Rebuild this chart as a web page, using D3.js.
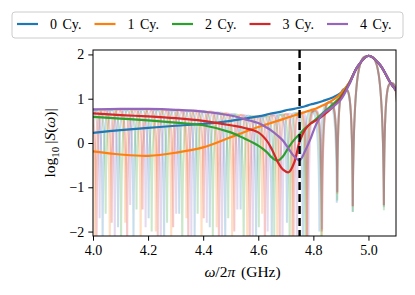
<!DOCTYPE html>
<html>
<head>
<meta charset="utf-8">
<script src="https://cdn.jsdelivr.net/npm/d3@7"></script>
<style>
  body { margin: 0; background: #fff; }
  svg text { font-family: "Liberation Serif", "Times New Roman", serif; fill: #000; }
</style>
</head>
<body>
<svg id="chart" width="415" height="295"></svg>
<script>
// legend labels, one per series
const seriesNames = ["0 Cy.", "1 Cy.", "2 Cy.", "3 Cy.", "4 Cy."];
const seriesColors = ["#1f77b4", "#ff7f0e", "#2ca02c", "#d62728", "#9467bd"];

// smoothed curves, all read on the same frequency grid (GHz)
const envFreq = [4.0, 4.1, 4.2, 4.3, 4.4, 4.5, 4.55, 4.6, 4.63, 4.65, 4.67, 4.69, 4.71, 4.73, 4.75, 4.77, 4.79, 4.81, 4.835, 4.87, 4.9, 4.93, 4.96, 5.0, 5.04, 5.08, 5.1];
const env0 = [0.23, 0.29, 0.34, 0.39, 0.43, 0.5, 0.55, 0.6, 0.64, 0.67, 0.69, 0.72, 0.75, 0.77, 0.8, 0.83, 0.87, 0.9, 0.95, 1.03, 1.13, 1.36, 1.72, 1.97, 1.78, 1.36, 1.19];
const env1 = [-0.19, -0.26, -0.29, -0.22, -0.1, 0.13, 0.25, 0.36, 0.42, 0.46, 0.5, 0.54, 0.58, 0.62, 0.66, 0.7, 0.74, 0.78, 0.85, 0.97, 1.12, 1.36, 1.72, 1.97, 1.78, 1.36, 1.19];
const env2 = [0.59, 0.55, 0.51, 0.46, 0.4, 0.24, 0.1, -0.06, -0.2, -0.33, -0.4, -0.3, -0.1, 0.07, 0.2, 0.33, 0.44, 0.54, 0.68, 0.87, 1.05, 1.34, 1.72, 1.97, 1.78, 1.36, 1.19];
const env3 = [0.67, 0.63, 0.6, 0.56, 0.5, 0.4, 0.34, 0.24, 0.06, -0.15, -0.42, -0.6, -0.66, -0.45, 0.03, 0.3, 0.44, 0.51, 0.62, 0.81, 1.02, 1.33, 1.72, 1.97, 1.78, 1.36, 1.19];
const env4 = [0.76, 0.77, 0.77, 0.75, 0.71, 0.62, 0.54, 0.45, 0.35, 0.27, 0.17, 0.05, -0.13, -0.3, -0.39, -0.18, 0.1, 0.42, 0.66, 0.81, 0.98, 1.32, 1.72, 1.97, 1.78, 1.36, 1.19];

// upper level reached by the raw (faint) fringes
const topFreq = [4.0, 4.2, 4.4, 4.5, 4.6, 4.7, 4.8, 4.86, 4.915, 4.95, 5.0, 5.05, 5.1];
const topVal = [0.75, 0.77, 0.73, 0.66, 0.6, 0.66, 0.72, 0.93, 1.22, 1.6, 1.97, 1.7, 1.19];

// fringe minima of the raw curves: position (GHz) and depth (log10)
const dips0 = [3.979, 4.035, 4.091, 4.147, 4.202, 4.258, 4.313, 4.369, 4.424, 4.48, 4.536, 4.592, 4.649, 4.704, 4.762, 4.822, 4.885, 4.943, 5.056, 5.112];
const depth0 = [-2.5, -2.4, -1.9, -2.3, -1.7, -2.5, -1.6, -2.2, -1.9, -2.4, -1.5, -2.2, -2.5, -1.8, -2.5, -2.0, -1.35, -1.55, -1.45, -1.6];
const dips1 = [3.95, 4.006, 4.061, 4.117, 4.173, 4.228, 4.284, 4.339, 4.394, 4.449, 4.505, 4.56, 4.614, 4.669, 4.723, 4.776, 4.831, 4.887, 4.943, 5.056, 5.112];
const depth1 = [-2.5, -2.2, -2.5, -1.8, -2.5, -2.0, -2.3, -1.7, -2.5, -1.9, -2.2, -2.5, -1.6, -2.4, -2.5, -2.5, -2.5, -1.15, -1.45, -1.42, -1.6];
const dips2 = [3.99, 4.046, 4.102, 4.158, 4.213, 4.269, 4.324, 4.38, 4.435, 4.491, 4.547, 4.602, 4.658, 4.714, 4.771, 4.829, 4.887, 4.943, 5.056, 5.112];
const depth2 = [-2.5, -1.6, -2.3, -1.5, -2.0, -1.8, -2.5, -1.6, -2.1, -1.7, -2.5, -1.9, -2.2, -2.5, -2.5, -2.2, -1.3, -1.56, -1.52, -1.6];
const dips3 = [3.957, 4.013, 4.068, 4.124, 4.18, 4.235, 4.291, 4.346, 4.402, 4.457, 4.513, 4.569, 4.624, 4.678, 4.728, 4.777, 4.831, 4.887, 4.943, 5.056, 5.112];
const depth3 = [-2.5, -2.3, -1.8, -2.5, -1.5, -2.2, -1.9, -2.5, -1.7, -2.4, -2.0, -2.5, -2.5, -2.2, -2.5, -2.5, -2.0, -1.12, -1.42, -1.4, -1.6];
const dips4 = [3.968, 4.024, 4.079, 4.135, 4.191, 4.246, 4.302, 4.357, 4.413, 4.468, 4.524, 4.58, 4.634, 4.688, 4.74, 4.782, 4.832, 4.887, 4.943, 5.056, 5.112];
const depth4 = [-2.5, -1.7, -2.2, -1.4, -1.9, -2.5, -1.6, -2.1, -1.8, -2.5, -1.5, -2.2, -2.0, -2.5, -2.5, -2.5, -1.95, -1.1, -1.42, -1.4, -1.6];

const xTicks = [4.0, 4.2, 4.4, 4.6, 4.8, 5.0];
const yTicks = [-2, -1, 0, 1, 2];
const markerFreq = 4.75;

const envs = [env0, env1, env2, env3, env4];
const dips = [dips0, dips1, dips2, dips3, dips4];
const depths = [depth0, depth1, depth2, depth3, depth4];

const margin = {left: 93, right: 19, top: 50, bottom: 59};
const width = 415, height = 295;
const svg = d3.select("#chart");

const x = d3.scaleLinear().domain([4.0, 5.1]).range([margin.left, width - margin.right]);
const y = d3.scaleLinear().domain([-2.1, 2.1]).range([height - margin.bottom, margin.top]);
const fringeTop = d3.scaleLinear().domain(topFreq).range(topVal);

svg.append("clipPath").attr("id", "plotclip")
   .append("rect")
   .attr("x", margin.left).attr("y", margin.top)
   .attr("width", width - margin.left - margin.right)
   .attr("height", height - margin.top - margin.bottom);

const plot = svg.append("g").attr("clip-path", "url(#plotclip)");

// faint raw curves: arches between consecutive fringe minima
function fringePath(ds, dd) {
	const p = d3.path();
	for (let i = 0; i < ds.length - 1; i++) {
		const x1 = x(ds[i]), y1 = y(dd[i]);
		const x2 = x(ds[i + 1]), y2 = y(dd[i + 1]);
		const xm = (x1 + x2) / 2, ym = y(fringeTop((ds[i] + ds[i + 1]) / 2));
		const h = xm - x1;
		if (i === 0) p.moveTo(x1, y1);
		p.bezierCurveTo(x1 + 0.05 * h, ym, x1 + 0.5 * h, ym, xm, ym);
		p.bezierCurveTo(x2 - 0.5 * h, ym, x2 - 0.05 * h, ym, x2, y2);
	}
	return p.toString();
}

seriesNames.forEach((name, i) => {
	plot.append("path")
	    .attr("d", fringePath(dips[i], depths[i]))
	    .attr("fill", "none")
	    .attr("stroke", seriesColors[i])
	    .attr("stroke-opacity", 0.25)
	    .attr("stroke-width", 2);
});

const line = d3.line()
	.x((d, i) => x(envFreq[i]))
	.y(d => y(d))
	.curve(d3.curveCatmullRom.alpha(0.5));

seriesNames.forEach((name, i) => {
	plot.append("path")
	    .attr("d", line(envs[i]))
	    .attr("fill", "none")
	    .attr("stroke", seriesColors[i])
	    .attr("stroke-width", 2.2)
	    .attr("stroke-linejoin", "round");
});

plot.append("line")
    .attr("x1", x(markerFreq)).attr("x2", x(markerFreq))
    .attr("y1", margin.top).attr("y2", height - margin.bottom)
    .attr("stroke", "#000")
    .attr("stroke-width", 2.4)
    .attr("stroke-dasharray", "8,4");

// axes
const xAxis = d3.axisBottom(x).tickValues(xTicks).tickFormat(d3.format(".1f")).tickSizeOuter(0).tickSize(4.7).tickPadding(4);
const yAxis = d3.axisLeft(y).tickValues(yTicks).tickFormat(d3.format("d")).tickSizeOuter(0).tickSize(4.7).tickPadding(4);

const gx = svg.append("g").attr("transform", `translate(0,${height - margin.bottom})`).call(xAxis);
const gy = svg.append("g").attr("transform", `translate(${margin.left},0)`).call(yAxis);
[gx, gy].forEach(g => {
	g.select(".domain").remove();
	g.selectAll("text").attr("font-size", 14).attr("font-family", "Liberation Serif, serif");
	g.selectAll("line").attr("stroke", "#000").attr("stroke-width", 1);
});

svg.append("rect")
   .attr("x", margin.left).attr("y", margin.top)
   .attr("width", width - margin.left - margin.right)
   .attr("height", height - margin.top - margin.bottom)
   .attr("fill", "none")
   .attr("stroke", "#000")
   .attr("stroke-width", 1);

// axis labels
const xl = svg.append("text")
   .attr("x", (margin.left + width - margin.right) / 2 - 2)
   .attr("y", 277)
   .attr("text-anchor", "middle")
   .attr("font-size", 15.5)
   .attr("word-spacing", 2);
xl.append("tspan").attr("font-style", "italic").text("ω");
xl.append("tspan").text("/2");
xl.append("tspan").attr("font-style", "italic").text("π");
xl.append("tspan").text(" (GHz)");

const yl = svg.append("text")
   .attr("transform", `translate(55,${(margin.top + height - margin.bottom) / 2}) rotate(-90)`)
   .attr("text-anchor", "middle")
   .attr("font-size", 15.5);
yl.append("tspan").text("log");
yl.append("tspan").attr("font-size", 11).attr("dy", 3.5).text("10");
yl.append("tspan").attr("dy", -3.5).text("\u2009|");
yl.append("tspan").attr("font-style", "italic").text("S");
yl.append("tspan").text("(");
yl.append("tspan").attr("font-style", "italic").text("ω");
yl.append("tspan").text(")|");

// legend
const legend = svg.append("g");
legend.append("rect")
      .attr("x", 12).attr("y", 12)
      .attr("width", 391).attr("height", 26)
      .attr("rx", 3)
      .attr("fill", "#fff").attr("fill-opacity", 0.8)
      .attr("stroke", "#ccc").attr("stroke-width", 1);
const item = legend.selectAll(".item")
      .data(seriesNames).enter()
      .append("g")
      .attr("class", "item")
      .attr("transform", (d, i) => `translate(${17 + i * 77.5},24)`);
item.append("line")
    .attr("x1", 0).attr("x2", 21)
    .attr("stroke", (d, i) => seriesColors[i])
    .attr("stroke-width", 2.2);
item.append("text")
    .attr("x", 33).attr("y", 4.5)
    .attr("font-size", 14)
    .attr("word-spacing", 2)
    .text(d => d);
</script>
</body>
</html>
